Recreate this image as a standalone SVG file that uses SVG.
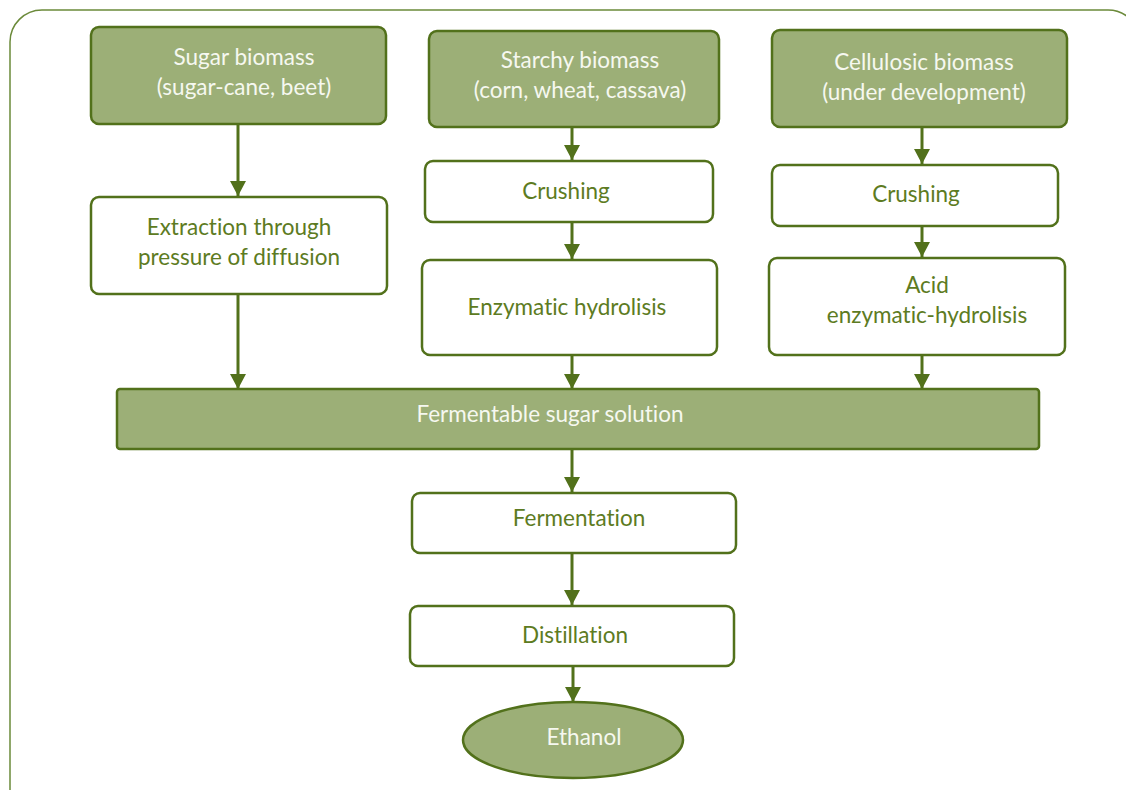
<svg xmlns="http://www.w3.org/2000/svg" width="1126" height="790" viewBox="0 0 1126 790">
<defs>
<style>
.box{fill:#ffffff;stroke:#52711b;stroke-width:2.5}
.gbox{fill:#9caf77;stroke:#52711b;stroke-width:2.5}
.t{font-family:Lato,"Open Sans","Liberation Sans",sans-serif;font-size:22.5px;text-anchor:middle;fill:#5d7b22;font-variant-ligatures:none}
.w{fill:#f6f8f0}
.c{stroke:#52711b;stroke-width:3;fill:none;marker-end:url(#ah)}
</style>
<marker id="ah" markerWidth="15" markerHeight="16" refX="15" refY="8" orient="auto" markerUnits="userSpaceOnUse" viewBox="0 0 15 16">
<path d="M0,0 L15,8 L0,16 Z" fill="#52711b"/>
</marker>
</defs>
<rect width="1126" height="790" fill="#ffffff"/>
<path id="frame" d="M10,796 L10,42 A32,32 0 0 1 42,10 L1108,10 A32,32 0 0 1 1140,42 L1140,796" fill="none" stroke="#6b8a3a" stroke-width="1.5"/>
<g id="connectors">
<line class="c" x1="238" y1="124" x2="238" y2="196"/>
<line class="c" x1="238" y1="294" x2="238" y2="389"/>
<line class="c" x1="572" y1="127" x2="572" y2="160"/>
<line class="c" x1="572" y1="222" x2="572" y2="259"/>
<line class="c" x1="572" y1="355" x2="572" y2="389"/>
<line class="c" x1="922" y1="127" x2="922" y2="164"/>
<line class="c" x1="922" y1="226" x2="922" y2="257"/>
<line class="c" x1="922" y1="355" x2="922" y2="389"/>
<line class="c" x1="572" y1="449" x2="572" y2="492"/>
<line class="c" x1="572" y1="553" x2="572" y2="605"/>
<line class="c" x1="573" y1="666" x2="573" y2="702"/>
</g>
<g id="sugar-biomass">
<rect class="gbox" x="91" y="27" width="295" height="97" rx="8"/>
<text class="t w" x="244" y="65">Sugar biomass</text>
<text class="t w" x="244" y="95">(sugar-cane, beet)</text>
</g>
<g id="starchy-biomass">
<rect class="gbox" x="429" y="31" width="290" height="96" rx="8"/>
<text class="t w" x="580" y="68">Starchy biomass</text>
<text class="t w" x="580" y="98">(corn, wheat, cassava)</text>
</g>
<g id="cellulosic-biomass">
<rect class="gbox" x="772" y="30" width="295" height="97" rx="8"/>
<text class="t w" x="924" y="70">Cellulosic biomass</text>
<text class="t w" x="924" y="100">(under development)</text>
</g>
<g id="extraction">
<rect class="box" x="91" y="197" width="296" height="97" rx="8"/>
<text class="t" x="239" y="235">Extraction through</text>
<text class="t" x="239" y="265">pressure of diffusion</text>
</g>
<g id="crushing-starchy">
<rect class="box" x="425" y="161" width="288" height="61" rx="8"/>
<text class="t" x="566" y="199">Crushing</text>
</g>
<g id="enzymatic-hydrolisis">
<rect class="box" x="422" y="260" width="295" height="95" rx="8"/>
<text class="t" x="567" y="315">Enzymatic hydrolisis</text>
</g>
<g id="crushing-cellulosic">
<rect class="box" x="772" y="165" width="286" height="61" rx="8"/>
<text class="t" x="916" y="202">Crushing</text>
</g>
<g id="acid-hydrolisis">
<rect class="box" x="769" y="258" width="296" height="97" rx="8"/>
<text class="t" x="927" y="293">Acid</text>
<text class="t" x="927" y="323">enzymatic-hydrolisis</text>
</g>
<g id="fermentable-sugar">
<rect class="gbox" x="117" y="389" width="922" height="60" rx="3"/>
<text class="t w" x="550" y="422">Fermentable sugar solution</text>
</g>
<g id="fermentation">
<rect class="box" x="412" y="493" width="324" height="60" rx="8"/>
<text class="t" x="579" y="526">Fermentation</text>
</g>
<g id="distillation">
<rect class="box" x="410" y="606" width="324" height="60" rx="8"/>
<text class="t" x="575" y="643">Distillation</text>
</g>
<g id="ethanol">
<ellipse class="gbox" cx="573" cy="740" rx="110" ry="38"/>
<text class="t w" x="584" y="745">Ethanol</text>
</g>
</svg>
